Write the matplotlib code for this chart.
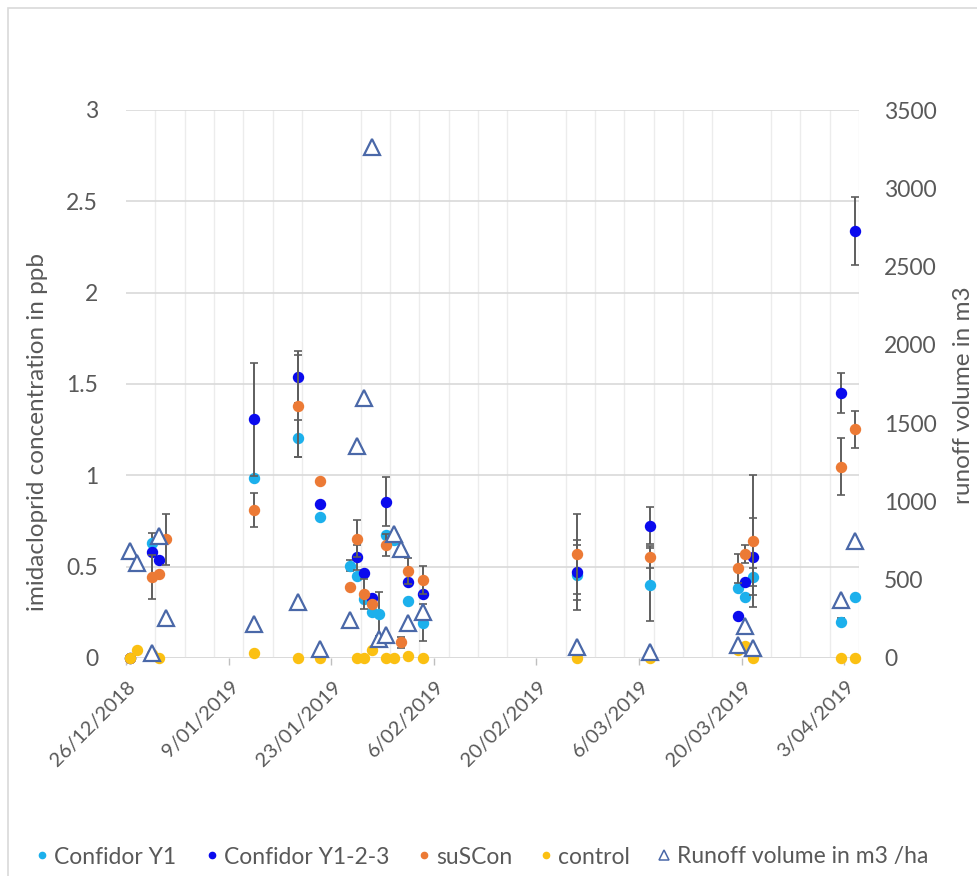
import matplotlib
matplotlib.use("Agg")
import matplotlib.pyplot as plt
import matplotlib.transforms as mtransforms
from matplotlib.lines import Line2D
from matplotlib.patches import Rectangle
import numpy as np
import pandas as pd

plt.rcParams['font.family'] = ['Lato', 'DejaVu Sans']

# ---------------- data ----------------
y1_dates = ["2018-12-26 12:00", "2018-12-29 12:00", "2019-01-12 12:00", "2019-01-18 12:00",
            "2019-01-21 12:00", "2019-01-25 12:00", "2019-01-26 12:00", "2019-01-27 12:00",
            "2019-01-28 12:00", "2019-01-29 12:00", "2019-01-30 12:00", "2019-01-31 12:00",
            "2019-02-02 12:00", "2019-02-04 12:00", "2019-02-25 12:00", "2019-03-07 12:00",
            "2019-03-19 12:00", "2019-03-20 12:00", "2019-03-21 12:00", "2019-04-02 12:00",
            "2019-04-04 12:00"]
y1_vals = [0.0, 0.632, 0.984, 1.203, 0.774, 0.504, 0.449, 0.321, 0.25, 0.239, 0.673, 0.646,
           0.314, 0.193, 0.454, 0.40, 0.382, 0.332, 0.445, 0.199, 0.332]
y1_err = [0, 0.05, 0, 0.10, 0, 0.03, 0, 0, 0, 0.12, 0, 0, 0, 0.10, 0.19, 0.20, 0, 0, 0.05, 0.02, 0]

y123_dates = ["2018-12-26 12:00", "2018-12-29 12:00", "2018-12-30 12:00", "2019-01-12 12:00",
              "2019-01-18 12:00", "2019-01-21 12:00", "2019-01-26 12:00", "2019-01-27 12:00",
              "2019-01-28 12:00", "2019-01-30 12:00", "2019-02-02 12:00", "2019-02-04 12:00",
              "2019-02-25 12:00", "2019-03-07 12:00", "2019-03-19 12:00", "2019-03-20 12:00",
              "2019-03-21 12:00", "2019-04-02 12:00", "2019-04-04 12:00"]
y123_vals = [0.0, 0.58, 0.536, 1.307, 1.538, 0.843, 0.551, 0.467, 0.33, 0.856, 0.414, 0.349,
             0.469, 0.724, 0.232, 0.418, 0.555, 1.452, 2.339]
y123_err = [0, 0, 0, 0.31, 0.14, 0, 0.07, 0, 0, 0.135, 0, 0, 0.15, 0.10, 0, 0, 0.21, 0.11, 0.185]

sus_dates = ["2018-12-26 12:00", "2018-12-29 12:00", "2018-12-30 12:00", "2018-12-31 12:00",
             "2019-01-12 12:00", "2019-01-18 12:00", "2019-01-21 12:00", "2019-01-25 12:00",
             "2019-01-26 12:00", "2019-01-27 12:00", "2019-01-28 12:00", "2019-01-30 12:00",
             "2019-01-31 12:00", "2019-02-01 12:00", "2019-02-02 12:00", "2019-02-04 12:00",
             "2019-02-25 12:00", "2019-03-07 12:00", "2019-03-19 12:00", "2019-03-20 12:00",
             "2019-03-21 12:00", "2019-04-02 12:00", "2019-04-04 12:00"]
sus_vals = [0.0, 0.445, 0.46, 0.651, 0.81, 1.381, 0.969, 0.387, 0.653, 0.35, 0.296, 0.619,
            0.661, 0.086, 0.476, 0.427, 0.569, 0.551, 0.491, 0.568, 0.64, 1.047, 1.252]
sus_err = [0, 0.12, 0, 0.14, 0.095, 0.28, 0, 0, 0.10, 0.08, 0, 0.06, 0, 0.03, 0.07, 0.077,
           0.22, 0.06, 0.08, 0.05, 0.36, 0.155, 0.10]

ctrl_dates = ["2018-12-26 12:00", "2018-12-27 12:00", "2018-12-29 12:00", "2018-12-30 12:00",
              "2019-01-12 12:00", "2019-01-18 12:00", "2019-01-21 12:00", "2019-01-26 12:00",
              "2019-01-27 12:00", "2019-01-28 12:00", "2019-01-30 12:00", "2019-01-31 12:00",
              "2019-02-02 12:00", "2019-02-04 12:00", "2019-02-25 12:00", "2019-03-07 12:00",
              "2019-03-19 12:00", "2019-03-20 12:00", "2019-03-21 12:00", "2019-04-02 12:00",
              "2019-04-04 12:00"]
ctrl_vals = [0.0, 0.044, 0.02, 0.0, 0.03, 0.0, 0.0, 0.0, 0.0, 0.044, 0.0, 0.0, 0.01, 0.0,
             0.0, 0.0, 0.044, 0.067, 0.0, 0.0, 0.0]

run_dates = ["2018-12-26 12:00", "2018-12-27 12:00", "2018-12-29 12:00", "2018-12-30 12:00",
             "2018-12-31 12:00", "2019-01-12 12:00", "2019-01-18 12:00", "2019-01-21 12:00",
             "2019-01-25 12:00", "2019-01-26 12:00", "2019-01-27 12:00", "2019-01-28 12:00",
             "2019-01-29 12:00", "2019-01-30 12:00", "2019-01-31 12:00", "2019-02-01 12:00",
             "2019-02-02 12:00", "2019-02-04 12:00", "2019-02-25 12:00", "2019-03-07 12:00",
             "2019-03-19 12:00", "2019-03-20 12:00", "2019-03-21 12:00", "2019-04-02 12:00",
             "2019-04-04 12:00"]
run_vals = [685, 605, 34, 779, 255, 215, 360, 60, 243, 1356, 1659, 3262, 124, 147, 792, 698,
            224, 294, 70, 40, 85, 205, 62, 372, 749]

series_names = ["Confidor Y1", "Confidor Y1-2-3", "suSCon", "control", "Runoff volume in m3 /ha"]
y_ticks_left = [0, 0.5, 1, 1.5, 2, 2.5, 3]
y_ticks_right = [0, 500, 1000, 1500, 2000, 2500, 3000, 3500]
x_start, x_end = "2018-12-26", "2019-04-05"

# ---------------- style ----------------
C_CYAN = "#1CB0EC"
C_BLUE = "#0A0AEE"
C_ORANGE = "#EC7A35"
C_YELLOW = "#FBC012"
C_TRI = "#4A68A8"
TXT = "#595959"
ECOL = "#5E5E5E"

W, H = 977, 876
fig = plt.figure(figsize=(W / 100, H / 100), dpi=100)
ax = fig.add_axes([126 / W, 1 - 658 / H, 733 / W, 548 / H])
ax2 = ax.twinx()

def dt(lst):
    return pd.to_datetime(lst)

def draw(axis, dates, vals, err, color, z):
    x = dt(dates)
    v = np.array(vals, dtype=float)
    axis.plot(x, v, ls='none', marker='o', ms=7.2, mfc=color, mec=color, zorder=z,
              clip_on=False)
    if err is not None:
        e = np.array(err, dtype=float)
        m = e > 0
        axis.errorbar(x[m], v[m], yerr=e[m], fmt='none', ecolor=ECOL, elinewidth=1.4,
                      capsize=3, capthick=1.2, zorder=z - 0.5, clip_on=False)

draw(ax, y1_dates, y1_vals, y1_err, C_CYAN, 3)
draw(ax, y123_dates, y123_vals, y123_err, C_BLUE, 4)
draw(ax, sus_dates, sus_vals, sus_err, C_ORANGE, 5)
draw(ax, ctrl_dates, ctrl_vals, None, C_YELLOW, 6)

ax2.plot(dt(run_dates), run_vals, ls='none', marker='^', ms=11, mfc='white', mec=C_TRI,
         mew=1.6, zorder=7, clip_on=False)

# axes limits & ticks
ax.set_xlim(pd.Timestamp(x_start), pd.Timestamp(x_end))
ax.set_ylim(0, 3)
ax2.set_ylim(0, 3500)
ax.set_yticks(y_ticks_left)
ax.set_yticklabels([f"{t:g}" for t in y_ticks_left])
ax2.set_yticks(y_ticks_right)
ax2.set_yticklabels([str(t) for t in y_ticks_right])

major = pd.date_range(x_start, x_end, freq='14D')
minor = pd.date_range(x_start, x_end, freq='4D')
ax.set_xticks(major)
ax.set_xticklabels([])
ax.set_xticks(minor, minor=True)
off = mtransforms.ScaledTranslation(7 / 100, -26 / 100, fig.dpi_scale_trans)
for d in major:
    ax.text(d, 0, f"{d.day}/{d.month:02d}/{d.year}", transform=ax.get_xaxis_transform() + off,
            rotation=45, ha='right', va='center', rotation_mode='anchor', fontsize=14.5,
            color=TXT, clip_on=False)

for a in (ax, ax2):
    for s in a.spines.values():
        s.set_visible(False)
ax.set_axisbelow(True)
ax.grid(True, which='major', axis='y', color='#D9D9D9', lw=1.2)
ax.grid(True, which='minor', axis='x', color='#ECECEC', lw=1.0)
ax.axhline(0, color='#D9D9D9', lw=1.2, zorder=0.5)

ax.tick_params(axis='y', length=0, pad=20, labelsize=16.5, labelcolor=TXT)
ax2.tick_params(axis='y', length=0, pad=18, labelsize=16.5, labelcolor=TXT)
ax.tick_params(axis='x', which='major', length=5, width=1, color='#BFBFBF')
ax.tick_params(axis='x', which='minor', length=0)

fig.text(38 / W, 1 - 432 / H, "imidacloprid concentration in ppb", rotation=90,
         ha='center', va='center', fontsize=17.5, color=TXT)
fig.text(963 / W, 1 - 395 / H, "runoff volume in m3", rotation=90,
         ha='center', va='center', fontsize=17.5, color=TXT)

# chart border
fig.patches.append(Rectangle((8 / W, -0.1), 1.2, 1 - 8 / H + 0.1, transform=fig.transFigure,
                             fill=False, edgecolor='#D9D9D9', lw=1.2))

# legend (manually placed entries)
leg_y = 1 - 857 / H
leg_marker_x = [42, 212, 424, 546, 664]
leg_text_x = [54, 224, 436, 558, 677]
leg_styles = [dict(marker='o', ms=4.5, mfc=C_CYAN, mec=C_CYAN),
              dict(marker='o', ms=4.5, mfc=C_BLUE, mec=C_BLUE),
              dict(marker='o', ms=4.5, mfc=C_ORANGE, mec=C_ORANGE),
              dict(marker='o', ms=4.5, mfc=C_YELLOW, mec=C_YELLOW),
              dict(marker='^', ms=7.5, mfc='white', mec=C_TRI, mew=1.1)]
for name, mx, tx, st in zip(series_names, leg_marker_x, leg_text_x, leg_styles):
    fig.add_artist(Line2D([mx / W], [leg_y + 0.002], ls='none', transform=fig.transFigure, **st))
    fig.text(tx / W, leg_y, name, ha='left', va='center', fontsize=16.5, color=TXT)

fig.savefig("out.png", dpi=100)
